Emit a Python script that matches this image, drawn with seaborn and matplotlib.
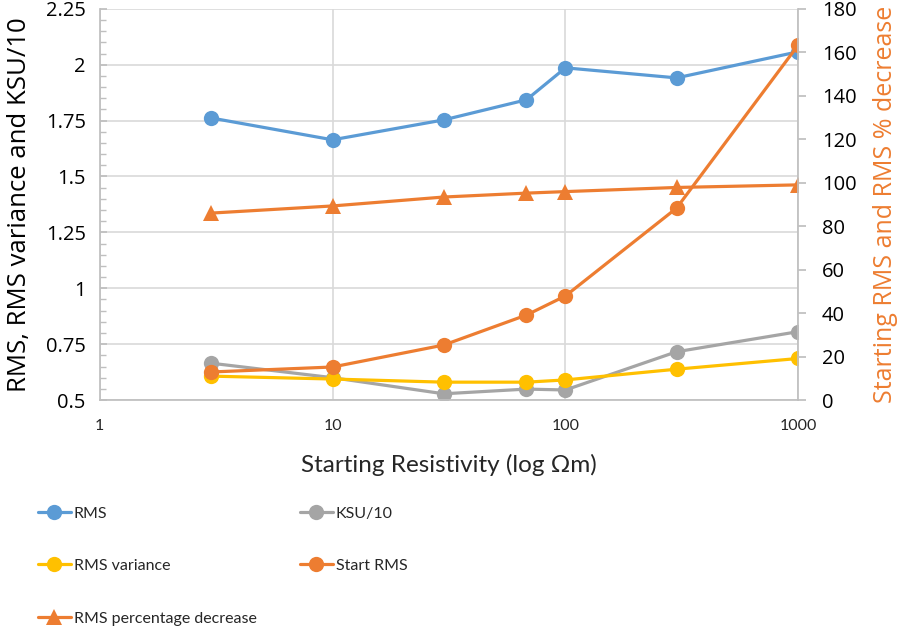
import numpy as np
import pandas as pd
import matplotlib
matplotlib.use("Agg")
import matplotlib.pyplot as plt
import matplotlib.ticker as mticker
import seaborn as sns

# data
resistivity = [3, 10, 30, 68, 100, 300, 1000]
rms = [1.762, 1.664, 1.753, 1.843, 1.986, 1.941, 2.058]
ksu_10 = [0.665, 0.600, 0.528, 0.549, 0.545, 0.716, 0.806]
rms_variance = [0.607, 0.594, 0.580, 0.580, 0.590, 0.638, 0.686]
start_rms = [12.9, 15.2, 25.3, 39.1, 47.9, 88.3, 163.4]
rms_pct_decrease = [86.0, 89.3, 93.4, 95.2, 95.9, 97.8, 99.0]

left_ticks = [0.5, 0.75, 1, 1.25, 1.5, 1.75, 2, 2.25]
right_ticks = list(range(0, 181, 20))
x_ticks = [1, 10, 100, 1000]

df = pd.DataFrame({
    "res": resistivity,
    "RMS": rms,
    "KSU/10": ksu_10,
    "RMS variance": rms_variance,
    "Start RMS": start_rms,
    "RMS percentage decrease": rms_pct_decrease,
})

colors = {"RMS": "#5B9BD5", "KSU/10": "#A5A5A5", "RMS variance": "#FFC000",
          "Start RMS": "#ED7D31", "RMS percentage decrease": "#ED7D31"}

sns.set_theme(style="white")
wide = ["Open Sans", "DejaVu Sans"]
narrow = ["Lato", "DejaVu Sans"]
plt.rcParams["font.family"] = wide

fig = plt.figure(figsize=(8.98, 6.29), dpi=100)
ax = fig.add_axes([0.111, 0.364, 0.778, 0.622])
ax.set_xscale("log")
ax2 = ax.twinx()

lw = 2.3
ms = 11
# left axis series
for col in ["RMS", "KSU/10", "RMS variance"]:
    sns.lineplot(data=df, x="res", y=col, ax=ax, color=colors[col], lw=lw,
                 marker="o", markersize=ms, markeredgewidth=0, label=col,
                 legend=False)
# right axis series
sns.lineplot(data=df, x="res", y="Start RMS", ax=ax2, color=colors["Start RMS"],
             lw=lw, marker="o", markersize=ms, markeredgewidth=0,
             label="Start RMS", legend=False)
sns.lineplot(data=df, x="res", y="RMS percentage decrease", ax=ax2,
             color=colors["RMS percentage decrease"], lw=lw, marker="^",
             markersize=ms, markeredgewidth=0, label="RMS percentage decrease",
             legend=False)

ax.set_xlim(1, 1000)
ax.set_ylim(0.5, 2.25)
ax2.set_ylim(0, 180)

ax.set_yticks(left_ticks)
ax.yaxis.set_major_formatter(mticker.FuncFormatter(lambda v, p: f"{v:g}"))
ax.yaxis.set_minor_locator(mticker.MultipleLocator(0.05))
ax2.set_yticks(right_ticks)
ax.set_xticks(x_ticks)
ax.xaxis.set_major_formatter(mticker.FuncFormatter(lambda v, p: f"{v:g}"))
ax.xaxis.set_minor_locator(mticker.NullLocator())

ax.grid(True, which="major", color="#D9D9D9", lw=1.2)
ax.set_axisbelow(True)
for a in (ax, ax2):
    for s in a.spines.values():
        s.set_visible(False)
ax.spines["left"].set_visible(True)
ax.spines["left"].set_color("#BFBFBF")
ax.spines["bottom"].set_visible(True)
ax.spines["bottom"].set_color("#BFBFBF")
ax2.spines["right"].set_visible(True)
ax2.spines["right"].set_color("#BFBFBF")

ax.tick_params(axis="y", which="both", direction="in", left=True, color="#BFBFBF",
               labelsize=14.5, pad=10, labelcolor="black")
ax.tick_params(axis="y", which="major", length=5)
ax.tick_params(axis="y", which="minor", length=4)
ax.tick_params(axis="x", which="major", length=0, pad=14, labelsize=11.5,
               labelcolor="#262626")
ax2.tick_params(axis="y", direction="out", right=True, length=6, color="#BFBFBF",
                labelsize=14.5, pad=11, labelcolor="black")
for t in ax.get_xticklabels():
    t.set_family(narrow)

ax.set_xlabel("Starting Resistivity (log Ωm)", fontsize=17.5, family=narrow,
              labelpad=15, color="#262626")
ax.set_ylabel("RMS, RMS variance and KSU/10", fontsize=18.5, labelpad=10,
              color="black")
ax2.set_ylabel("Starting RMS and RMS % decrease", fontsize=18, labelpad=12,
               color="#ED7D31")

h1, l1 = ax.get_legend_handles_labels()
h2, l2 = ax2.get_legend_handles_labels()
hd = dict(zip(l1 + l2, h1 + h2))
order = ["RMS", "RMS variance", "RMS percentage decrease", "KSU/10", "Start RMS"]
leg = fig.legend([hd[k] for k in order], order, loc="upper left",
                 bbox_to_anchor=(0.042, 0.195), ncol=2, frameon=False,
                 prop={"family": narrow, "size": 11.5}, handlelength=2.1,
                 handletextpad=0.15, labelspacing=2.4, columnspacing=2.7,
                 borderpad=0, borderaxespad=0)
for t in leg.get_texts():
    t.set_color("#262626")

fig.savefig("out.png", dpi=100)
